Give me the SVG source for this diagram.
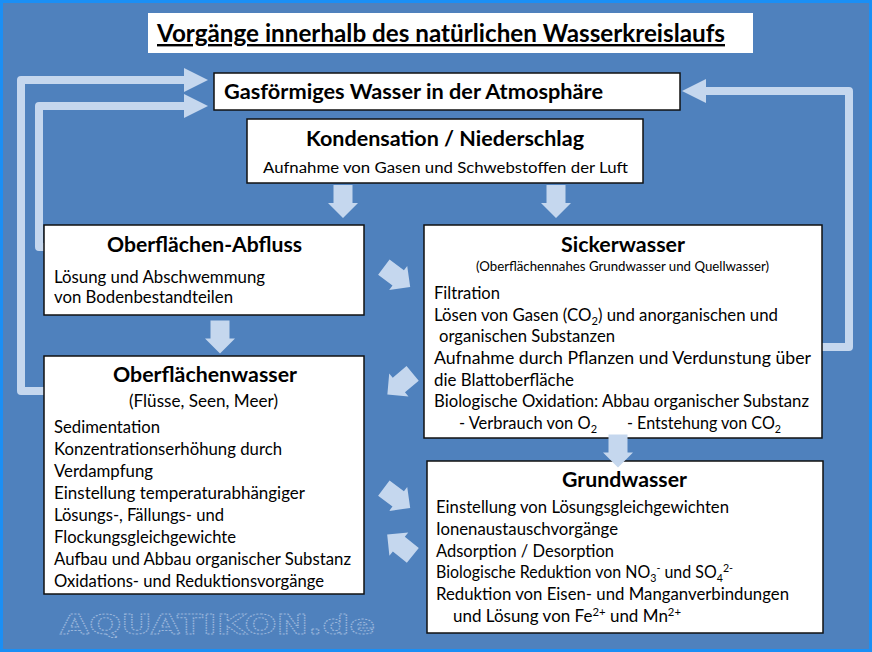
<svg xmlns="http://www.w3.org/2000/svg" width="872" height="652" viewBox="0 0 872 652">
<style>
.box{fill:#fff;stroke:#111;stroke-width:1.5}
.t{font-family:Lato,"Liberation Sans",sans-serif;fill:#000}
.h{font-size:20px;font-weight:bold;text-anchor:middle}
.b{font-size:16.5px}
.loop{fill:none;stroke:#c5d7ee;stroke-width:8;stroke-linejoin:round}
.blk{fill:#c5d7ee}
</style>
<defs>
<marker id="head" markerUnits="userSpaceOnUse" viewBox="0 0 24 24" markerWidth="24" markerHeight="24" refX="16" refY="12" orient="auto">
<path d="M0,0 L24,12 L0,24 Z" fill="#c5d7ee"/>
</marker>
<path id="arr" d="M-16.5,-9.5 L1.5,-9.5 L1.5,-15 L16.5,0 L1.5,15 L1.5,9.5 L-16.5,9.5 Z"/>
</defs>
<rect x="1.5" y="1.5" width="869" height="649" fill="#4f81bd" stroke="#1a8ff5" stroke-width="3"/>

<g id="title">
<rect x="148" y="13" width="605" height="40" fill="#fff"/>
<text class="t" x="157" y="42" font-size="24" font-weight="bold" text-decoration="underline" textLength="568" lengthAdjust="spacingAndGlyphs">Vorgänge innerhalb des natürlichen Wasserkreislaufs</text>
</g>

<g id="connectors">
<path class="loop" d="M44,391 L21,391 L21,80 L200,80" marker-end="url(#head)"/>
<path class="loop" d="M44,247 L39,247 L39,106 L200,106" marker-end="url(#head)"/>
<path class="loop" d="M822,347 L849,347 L849,91 L690,91" marker-end="url(#head)"/>
<use href="#arr" class="blk" transform="translate(343,201.5) rotate(90)"/>
<use href="#arr" class="blk" transform="translate(556,201.5) rotate(90)"/>
<use href="#arr" class="blk" transform="translate(220,337) rotate(90)"/>
<use href="#arr" class="blk" transform="translate(397,277) rotate(37)"/>
<use href="#arr" class="blk" transform="translate(400,384) rotate(140)"/>
<use href="#arr" class="blk" transform="translate(397,498) rotate(37)"/>
<use href="#arr" class="blk" transform="translate(400,545) rotate(219)"/>
</g>

<g id="gas">
<rect class="box" x="214" y="73" width="466" height="37"/>
<text class="t" x="224" y="99" font-size="20" font-weight="bold" textLength="379" lengthAdjust="spacingAndGlyphs">Gasförmiges Wasser in der Atmosphäre</text>
</g>

<g id="kondensation">
<rect class="box" x="247" y="119" width="396" height="64"/>
<text class="t h" x="445" y="146" textLength="278" lengthAdjust="spacingAndGlyphs">Kondensation / Niederschlag</text>
<text class="t" x="263" y="173" font-size="15.5" textLength="365" lengthAdjust="spacingAndGlyphs">Aufnahme von Gasen und Schwebstoffen der Luft</text>
</g>

<g id="abfluss">
<rect class="box" x="44" y="225" width="320" height="90"/>
<text class="t h" x="204.5" y="252" textLength="195" lengthAdjust="spacingAndGlyphs">Oberflächen-Abfluss</text>
<text class="t b" x="54" y="283" textLength="211" lengthAdjust="spacingAndGlyphs">Lösung und Abschwemmung</text>
<text class="t b" x="54" y="303" textLength="179" lengthAdjust="spacingAndGlyphs">von Bodenbestandteilen</text>
</g>

<g id="oberflaechenwasser">
<rect class="box" x="44" y="356" width="320" height="238"/>
<text class="t h" x="205" y="382" textLength="184" lengthAdjust="spacingAndGlyphs">Oberflächenwasser</text>
<text class="t b" x="203.5" y="407" text-anchor="middle" textLength="149" lengthAdjust="spacingAndGlyphs">(Flüsse, Seen, Meer)</text>
<text class="t b" x="54" y="433" textLength="106" lengthAdjust="spacingAndGlyphs">Sedimentation</text>
<text class="t b" x="54" y="455" textLength="228" lengthAdjust="spacingAndGlyphs">Konzentrationserhöhung durch</text>
<text class="t b" x="54" y="477" textLength="99" lengthAdjust="spacingAndGlyphs">Verdampfung</text>
<text class="t b" x="54" y="499" textLength="251" lengthAdjust="spacingAndGlyphs">Einstellung temperaturabhängiger</text>
<text class="t b" x="54" y="521" textLength="170" lengthAdjust="spacingAndGlyphs">Lösungs-, Fällungs- und</text>
<text class="t b" x="54" y="543" textLength="182" lengthAdjust="spacingAndGlyphs">Flockungsgleichgewichte</text>
<text class="t b" x="54" y="565" textLength="297" lengthAdjust="spacingAndGlyphs">Aufbau und Abbau organischer Substanz</text>
<text class="t b" x="54" y="587" textLength="270" lengthAdjust="spacingAndGlyphs">Oxidations- und Reduktionsvorgänge</text>
</g>

<g id="sickerwasser">
<rect class="box" x="424" y="225" width="398" height="213"/>
<text class="t h" x="623" y="252" textLength="124" lengthAdjust="spacingAndGlyphs">Sickerwasser</text>
<text class="t" x="622.5" y="271" font-size="12.5" text-anchor="middle" textLength="293" lengthAdjust="spacingAndGlyphs">(Oberflächennahes Grundwasser und Quellwasser)</text>
<text class="t b" x="434" y="299" textLength="66" lengthAdjust="spacingAndGlyphs">Filtration</text>
<text class="t b" x="434" y="321" textLength="344" lengthAdjust="spacingAndGlyphs">Lösen von Gasen (CO<tspan font-size="11" dy="4">2</tspan><tspan dy="-4">) und anorganischen und</tspan></text>
<text class="t b" x="439" y="342" textLength="176" lengthAdjust="spacingAndGlyphs">organischen Substanzen</text>
<text class="t b" x="434" y="364" textLength="377" lengthAdjust="spacingAndGlyphs">Aufnahme durch Pflanzen und Verdunstung über</text>
<text class="t b" x="434" y="385.5" textLength="140" lengthAdjust="spacingAndGlyphs">die Blattoberfläche</text>
<text class="t b" x="434" y="407" textLength="375" lengthAdjust="spacingAndGlyphs">Biologische Oxidation: Abbau organischer Substanz</text>
<text class="t b" x="459" y="429" textLength="138" lengthAdjust="spacingAndGlyphs">- Verbrauch von O<tspan font-size="11" dy="4">2</tspan></text>
<text class="t b" x="627" y="429" textLength="154" lengthAdjust="spacingAndGlyphs">- Entstehung von CO<tspan font-size="11" dy="4">2</tspan></text>
</g>

<g id="grundwasser">
<rect class="box" x="427" y="461" width="396" height="172"/>
<text class="t h" x="624.5" y="487" textLength="125" lengthAdjust="spacingAndGlyphs">Grundwasser</text>
<text class="t b" x="436" y="513" textLength="293" lengthAdjust="spacingAndGlyphs">Einstellung von Lösungsgleichgewichten</text>
<text class="t b" x="436" y="535" textLength="182" lengthAdjust="spacingAndGlyphs">Ionenaustauschvorgänge</text>
<text class="t b" x="436" y="557" textLength="178" lengthAdjust="spacingAndGlyphs">Adsorption / Desorption</text>
<text class="t b" x="436" y="578" textLength="297" lengthAdjust="spacingAndGlyphs">Biologische Reduktion von NO<tspan font-size="11" dy="4">3</tspan><tspan font-size="11" dy="-10">-</tspan><tspan dy="6"> und SO</tspan><tspan font-size="11" dy="4">4</tspan><tspan font-size="11" dy="-10">2-</tspan></text>
<text class="t b" x="436" y="600" textLength="353" lengthAdjust="spacingAndGlyphs">Reduktion von Eisen- und Manganverbindungen</text>
<text class="t b" x="453" y="622" textLength="228" lengthAdjust="spacingAndGlyphs">und Lösung von Fe<tspan font-size="11" dy="-6">2+</tspan><tspan dy="6"> und Mn</tspan><tspan font-size="11" dy="-6">2+</tspan></text>
</g>

<use href="#arr" class="blk" transform="translate(618,451) rotate(90)"/>

<g id="watermark">
<text x="60" y="634" font-family="DejaVu Sans,sans-serif" font-size="26" font-weight="bold" fill="none" stroke="#9ab6dc" stroke-width="1" stroke-dasharray="1.5 1" textLength="315" lengthAdjust="spacingAndGlyphs">AQUATIKON.de</text>
</g>
</svg>
